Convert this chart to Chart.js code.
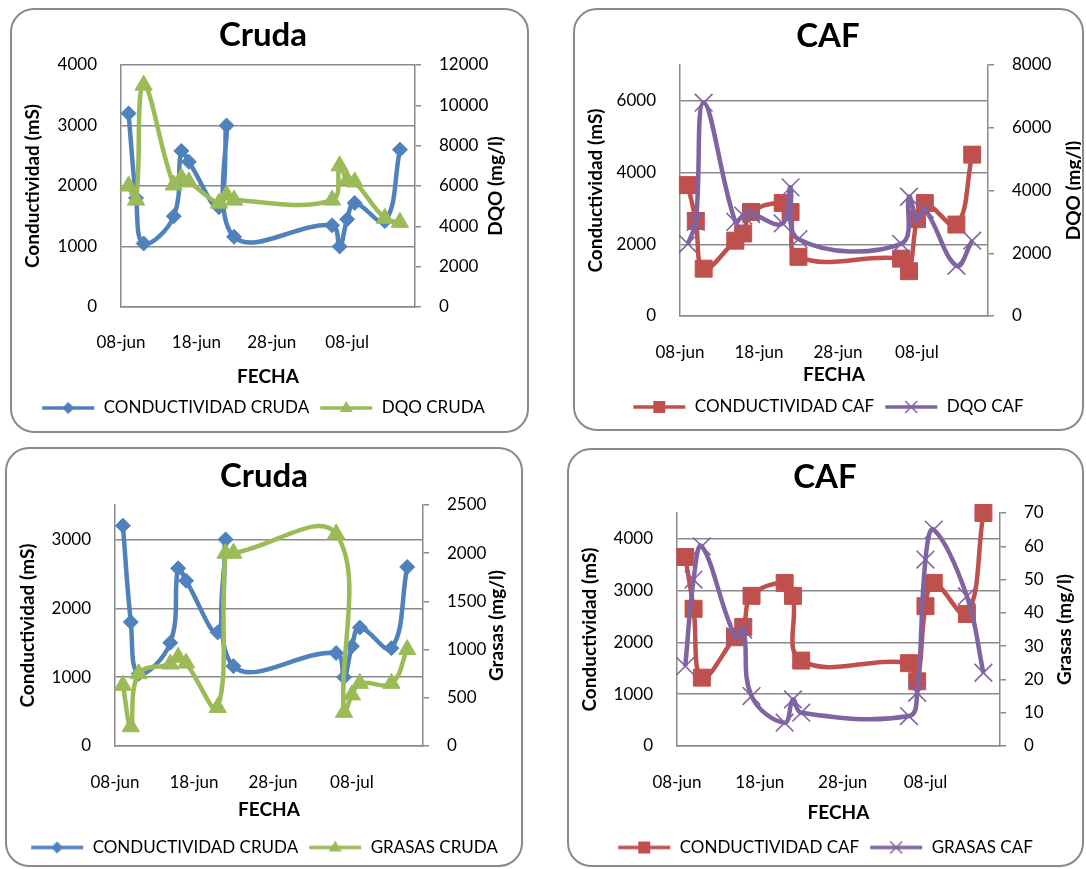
<!DOCTYPE html>
<html>
<head>
<meta charset="utf-8">
<script src="https://cdn.jsdelivr.net/npm/chart.js@4.4.1/dist/chart.umd.min.js"></script>
<style>
  body { margin: 0; width: 1086px; height: 869px; position: relative; overflow: hidden; background: #fff; }
  .marco { position: absolute; border: 2px solid #8a8a8a; border-radius: 24px; box-sizing: border-box; }
  canvas { position: absolute; }
</style>
</head>
<body>
<div class="marco" style="left:10px;top:8px;width:519px;height:425px"></div>
<div class="marco" style="left:573px;top:8px;width:511px;height:423px"></div>
<div class="marco" style="left:5px;top:447px;width:518px;height:420px"></div>
<div class="marco" style="left:567px;top:448px;width:517px;height:419px"></div>
<canvas id="c1"></canvas>
<canvas id="c2"></canvas>
<canvas id="c3"></canvas>
<canvas id="c4"></canvas>
<script>
// días contados desde el 08-jun
const fechaDias = [1, 2, 3, 7, 8, 9, 13, 14, 15, 28, 29, 30, 31, 35, 37];
const tickDias = [0, 10, 20, 30];
const tickFechas = ['08-jun', '18-jun', '28-jun', '08-jul'];

const conductividadCruda = [3200, 1800, 1050, 1500, 2580, 2400, 1650, 3000, 1160, 1350, 1000, 1450, 1720, 1420, 2600];
const dqoCruda = [6000, 5300, 11000, 6050, 6400, 6200, 5150, 5550, 5300, 5300, 7000, 6300, 6200, 4400, 4200];
const conductividadCaf = [3650, 2650, 1320, 2100, 2300, 2900, 3150, 2900, 1650, 1600, 1250, 2700, 3150, 2550, 4500];
const dqoCaf = [2300, 3000, 6800, 3000, 3200, 3250, 2950, 4100, 2450, 2300, 3800, 3100, 3400, 1600, 2400];
const grasasCruda = [630, 200, 750, 850, 920, 860, 400, 2000, 2000, 2200, 350, 530, 650, 650, 1000];
const grasasCaf = [24, 50, 60, 33, 35, 15, 7, 14, 10, 9, 16, 56, 65, 45, 22];

const ticksCond4000 = [0, 1000, 2000, 3000, 4000];
const ticksCond7000 = [0, 2000, 4000, 6000];
const ticksCond3500 = [0, 1000, 2000, 3000];
const ticksDqoCruda = [0, 2000, 4000, 6000, 8000, 10000, 12000];
const ticksDqoCaf = [0, 2000, 4000, 6000, 8000];
const ticksGrasasCruda = [0, 500, 1000, 1500, 2000, 2500];
const ticksGrasasCaf = [0, 10, 20, 30, 40, 50, 60, 70];

const AZUL = '#4F81BD', VERDE = '#9BBB59', ROJO = '#C0504D', MORADO = '#8064A2';
const GRIS = '#8a8a8a';

Chart.defaults.font.family = 'Lato';
Chart.defaults.color = '#000';

const tituloDerecho = {
  id: 'tituloDerecho',
  afterDraw(chart, args, opts) {
    const {ctx, chartArea} = chart;
    ctx.save();
    ctx.font = 'bold 19px Lato';
    ctx.fillStyle = '#000';
    ctx.textAlign = 'center';
    ctx.textBaseline = 'middle';
    ctx.translate(opts.x, (chartArea.top + chartArea.bottom) / 2);
    ctx.rotate(-Math.PI / 2);
    ctx.fillText(opts.texto, 0, 0);
    ctx.restore();
  }
};

function icono(color, marca) {
  const c = document.createElement('canvas');
  c.width = 54; c.height = 16;
  const g = c.getContext('2d');
  const cx = 27, cy = 8;
  g.strokeStyle = color; g.fillStyle = color; g.lineWidth = 3.5;
  g.beginPath(); g.moveTo(1, cy); g.lineTo(53, cy); g.stroke();
  g.beginPath();
  if (marca === 'rectRot') {
    g.moveTo(cx - 6, cy); g.lineTo(cx, cy - 6); g.lineTo(cx + 6, cy); g.lineTo(cx, cy + 6); g.closePath(); g.fill();
  } else if (marca === 'triangle') {
    g.moveTo(cx, cy - 7); g.lineTo(cx + 6.5, cy + 4); g.lineTo(cx - 6.5, cy + 4); g.closePath(); g.fill();
  } else if (marca === 'rect') {
    g.rect(cx - 6, cy - 6, 12, 12); g.fill();
  } else {
    g.lineWidth = 1.5;
    g.moveTo(cx - 6, cy - 6); g.lineTo(cx + 6, cy + 6); g.moveTo(cx + 6, cy - 6); g.lineTo(cx - 6, cy + 6); g.stroke();
  }
  return c;
}

function serie(etiqueta, valores, color, marca, radio, eje, orden) {
  return {
    label: etiqueta,
    data: fechaDias.map((d, i) => ({x: d, y: valores[i]})),
    yAxisID: eje,
    order: orden,
    clip: false,
    borderColor: color,
    backgroundColor: color,
    borderWidth: 4.5,
    tension: 0.4,
    pointStyle: marca,
    pointRadius: radio,
    pointBorderWidth: marca === 'crossRot' ? 1.6 : 1,
    pointBackgroundColor: color,
    pointBorderColor: color
  };
}

function grafico(id, pos, cfg) {
  const lienzo = document.getElementById(id);
  lienzo.width = pos.w; lienzo.height = pos.h;
  lienzo.style.left = pos.x + 'px'; lienzo.style.top = pos.y + 'px';
  const a = pos.area;
  const tamTitulo = 33, tamTick = 17, tamEje = 19, tamLeyenda = 17, sepLeyenda = 10;
  const tituloTop = pos.titulo - pos.y - tamTitulo * 0.6;
  const tituloBottom = a.t - pos.y - tituloTop - tamTitulo * 1.2;
  const altoLeyenda = tamLeyenda + sepLeyenda + 10;
  const padAbajo = Math.max(0, pos.y + pos.h - pos.leyenda - (tamLeyenda / 2 + 10));
  const altoX = pos.y + pos.h - padAbajo - altoLeyenda - a.b;
  const iconos = [icono(cfg.color1, cfg.marca1), icono(cfg.color2, cfg.marca2)];

  return new Chart(lienzo, {
    type: 'line',
    data: {
      datasets: [
        serie(cfg.etiqueta1, cfg.valores1, cfg.color1, cfg.marca1, cfg.radio1, 'y', 2),
        serie(cfg.etiqueta2, cfg.valores2, cfg.color2, cfg.marca2, cfg.radio2, 'y1', 1)
      ]
    },
    plugins: [tituloDerecho],
    options: {
      responsive: false,
      animation: false,
      layout: { padding: { left: 0, right: 0, top: 0, bottom: padAbajo } },
      plugins: {
        tooltip: { enabled: false },
        title: {
          display: true, text: cfg.titulo,
          font: { size: tamTitulo, weight: 'bold' },
          padding: { top: tituloTop, bottom: tituloBottom }
        },
        legend: {
          position: 'bottom',
          labels: {
            usePointStyle: true, pointStyleWidth: 54, padding: sepLeyenda,
            font: { size: tamLeyenda },
            sort: (p, q) => p.datasetIndex - q.datasetIndex,
            generateLabels: (chart) => Chart.defaults.plugins.legend.labels.generateLabels(chart)
              .map(it => Object.assign(it, { pointStyle: iconos[it.datasetIndex] }))
          }
        },
        tituloDerecho: { texto: cfg.tituloDer, x: pos.ejeDer - pos.x }
      },
      scales: {
        x: {
          type: 'linear', min: 0, max: 39,
          afterBuildTicks: s => { s.ticks = tickDias.map(v => ({ value: v })); },
          afterFit: s => { s.height = altoX; },
          grid: { drawOnChartArea: false, drawTicks: false },
          border: { color: GRIS, width: 1.5 },
          ticks: {
            maxRotation: 0, autoSkip: false, font: { size: tamTick },
            padding: pos.fechas - a.b - tamTick * 0.6,
            callback: v => tickFechas[tickDias.indexOf(v)]
          },
          title: {
            display: true, text: 'FECHA', font: { size: tamEje, weight: 'bold' },
            padding: { top: 0, bottom: a.b + altoX - pos.fecha - tamEje * 0.6 }
          }
        },
        y: {
          position: 'left', min: 0, max: cfg.maxIzq,
          afterBuildTicks: s => { s.ticks = cfg.ticksIzq.map(v => ({ value: v })); },
          afterFit: s => { s.width = a.l - pos.x; },
          grid: { color: GRIS, lineWidth: 1.5, drawTicks: false },
          border: { color: GRIS, width: 1.5 },
          ticks: { padding: 24, font: { size: tamTick }, callback: v => String(v) },
          title: {
            display: true, text: 'Conductividad (mS)', font: { size: tamEje, weight: 'bold' },
            padding: { top: pos.ejeIzq - pos.x - tamEje * 0.6, bottom: 0 }
          }
        },
        y1: {
          position: 'right', min: 0, max: cfg.maxDer,
          afterBuildTicks: s => { s.ticks = cfg.ticksDer.map(v => ({ value: v })); },
          afterFit: s => { s.width = pos.x + pos.w - a.r; },
          grid: { drawOnChartArea: false, drawTicks: true, tickLength: 6, color: GRIS, lineWidth: 1.5 },
          border: { color: GRIS, width: 1.5 },
          ticks: { padding: 18, font: { size: tamTick }, callback: v => String(v) }
        }
      }
    }
  });
}

grafico('c1',
  { x: 12, y: 10, w: 502, h: 421, area: { l: 121, r: 415, t: 65, b: 307 },
    titulo: 35, leyenda: 408, fechas: 343, fecha: 377, ejeIzq: 33, ejeDer: 496 },
  { titulo: 'Cruda', tituloDer: 'DQO (mg/l)',
    etiqueta1: 'CONDUCTIVIDAD CRUDA', valores1: conductividadCruda, color1: AZUL, marca1: 'rectRot', radio1: 7.5,
    etiqueta2: 'DQO CRUDA', valores2: dqoCruda, color2: VERDE, marca2: 'triangle', radio2: 10,
    maxIzq: 4000, ticksIzq: ticksCond4000, maxDer: 12000, ticksDer: ticksDqoCruda });

grafico('c2',
  { x: 575, y: 10, w: 506, h: 420, area: { l: 680, r: 988, t: 65, b: 316 },
    titulo: 36, leyenda: 407, fechas: 353, fecha: 375, ejeIzq: 596, ejeDer: 1074 },
  { titulo: 'CAF', tituloDer: 'DQO (mg/l)',
    etiqueta1: 'CONDUCTIVIDAD CAF', valores1: conductividadCaf, color1: ROJO, marca1: 'rect', radio1: 12,
    etiqueta2: 'DQO CAF', valores2: dqoCaf, color2: MORADO, marca2: 'crossRot', radio2: 12.5,
    maxIzq: 7000, ticksIzq: ticksCond7000, maxDer: 8000, ticksDer: ticksDqoCaf });

grafico('c3',
  { x: 7, y: 449, w: 514, h: 417, area: { l: 115, r: 423, t: 505, b: 746 },
    titulo: 476, leyenda: 848, fechas: 783, fecha: 810, ejeIzq: 28, ejeDer: 497 },
  { titulo: 'Cruda', tituloDer: 'Grasas (mg/l)',
    etiqueta1: 'CONDUCTIVIDAD CRUDA', valores1: conductividadCruda, color1: AZUL, marca1: 'rectRot', radio1: 7.5,
    etiqueta2: 'GRASAS CRUDA', valores2: grasasCruda, color2: VERDE, marca2: 'triangle', radio2: 10,
    maxIzq: 3500, ticksIzq: ticksCond3500, maxDer: 2500, ticksDer: ticksGrasasCruda });

grafico('c4',
  { x: 569, y: 450, w: 512, h: 416, area: { l: 677, r: 1000, t: 513, b: 746 },
    titulo: 477, leyenda: 848, fechas: 783, fecha: 813, ejeIzq: 590, ejeDer: 1065 },
  { titulo: 'CAF', tituloDer: 'Grasas (mg/l)',
    etiqueta1: 'CONDUCTIVIDAD CAF', valores1: conductividadCaf, color1: ROJO, marca1: 'rect', radio1: 12,
    etiqueta2: 'GRASAS CAF', valores2: grasasCaf, color2: MORADO, marca2: 'crossRot', radio2: 12.5,
    maxIzq: 4500, ticksIzq: ticksCond3500.concat([4000]), maxDer: 70, ticksDer: ticksGrasasCaf });
</script>
</body>
</html>
